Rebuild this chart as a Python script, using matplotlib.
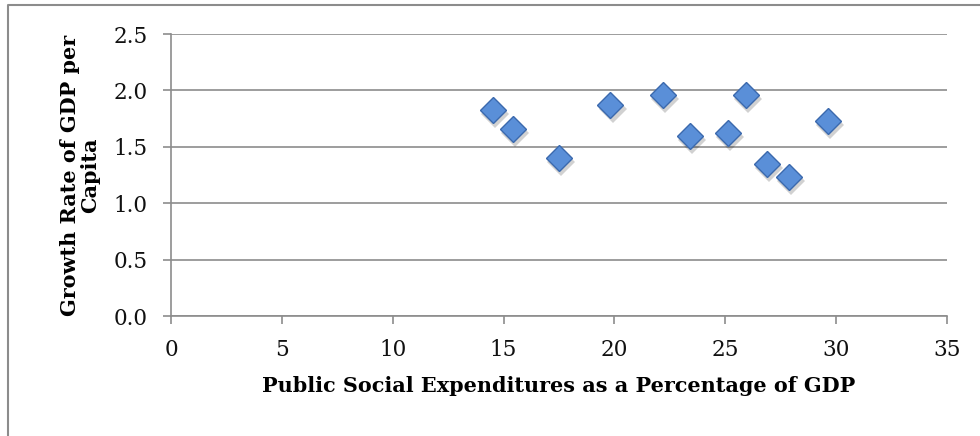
import matplotlib
matplotlib.use("Agg")
import matplotlib.pyplot as plt
from matplotlib.lines import Line2D
from matplotlib.transforms import offset_copy

# Public social expenditure (% of GDP) vs growth rate of GDP per capita
social_exp = [14.54, 15.41, 17.50, 19.82, 22.21, 23.42, 25.14, 25.92, 26.90, 27.87, 29.62]
gdp_growth = [1.83, 1.66, 1.40, 1.87, 1.96, 1.60, 1.62, 1.96, 1.35, 1.23, 1.73]

x_ticks = [0, 5, 10, 15, 20, 25, 30, 35]
y_ticks = [0.0, 0.5, 1.0, 1.5, 2.0, 2.5]

x_title = "Public Social Expenditures as a Percentage of GDP"
y_title = ["Growth Rate of GDP per", "Capita"]

plt.rcParams["font.family"] = ["DejaVu Serif"]

fig = plt.figure(figsize=(9.8, 4.36), dpi=100)
ax = fig.add_axes([0.1745, 0.2752, 0.7918, 0.6468])

grey = "#8c8c8c"

# outer chart frame (left and top edges fall inside the image)
fx = 8 / 980
fy = 1 - 5 / 436
fig.lines.append(Line2D([fx, fx, 1.0], [0.0, fy, fy], transform=fig.transFigure,
                        color=grey, linewidth=1.5))

ax.set_xlim(0, 35)
ax.set_ylim(0, 2.5)
ax.set_xticks(x_ticks)
ax.set_yticks(y_ticks)
ax.set_xticklabels([str(t) for t in x_ticks])
ax.set_yticklabels([f"{t:.1f}" for t in y_ticks])

ax.yaxis.grid(True, color=grey, linewidth=1.2)
ax.set_axisbelow(True)
for s in ("top", "right"):
    ax.spines[s].set_visible(False)
for s in ("left", "bottom"):
    ax.spines[s].set_color(grey)
    ax.spines[s].set_linewidth(1.2)
ax.tick_params(axis="both", direction="out", length=6, width=1.2, color=grey,
               labelsize=15.5, labelcolor="#111111")
ax.tick_params(axis="x", pad=10.5)
ax.tick_params(axis="y", pad=11)

# soft drop shadow under each marker
shadow_tf = offset_copy(ax.transData, fig=fig, x=1.5, y=-3.0, units="points")
ax.plot(social_exp, gdp_growth, linestyle="none", marker="D", markersize=14,
        color="#000000", alpha=0.18, markeredgewidth=0, transform=shadow_tf, zorder=2)
ax.plot(social_exp, gdp_growth, linestyle="none", marker="D", markersize=13.2,
        markerfacecolor="#5a8fd8", markeredgecolor="#3b69ad", markeredgewidth=1.0,
        zorder=3)


def fit_size(text, target_px, base=10.0):
    """Font size (bold) at which `text` spans target_px pixels."""
    renderer = fig.canvas.get_renderer()
    t = fig.text(0, 0, text, fontsize=base, fontweight="bold")
    w = t.get_window_extent(renderer).width
    t.remove()
    return base * target_px / w


title_size = 0.5 * (fit_size(x_title, 607) + fit_size(y_title[0], 275))

ax.set_xlabel(x_title, fontsize=title_size, fontweight="bold", labelpad=11)
ax.set_ylabel("\n".join(y_title), fontsize=title_size, fontweight="bold",
              linespacing=1.0)
ax.yaxis.set_label_coords(-0.0915, 0.5)

fig.savefig("out.png", dpi=100)
